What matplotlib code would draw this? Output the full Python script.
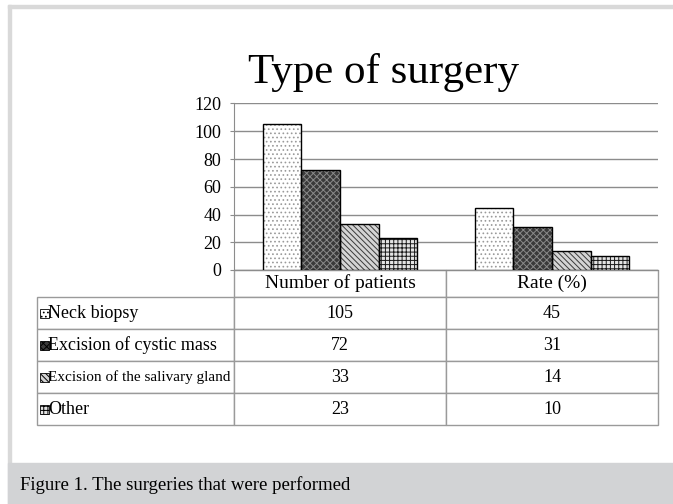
import numpy as np
import matplotlib.pyplot as plt
from matplotlib.patches import Rectangle

# data
categories = ['Number of patients', 'Rate (%)']
surgeries = ['Neck biopsy', 'Excision of cystic mass',
             'Excision of the salivary gland', 'Other']
patients = [105, 72, 33, 23]
rates = [45, 31, 14, 10]
yticks = [0, 20, 40, 60, 80, 100, 120]

# bar looks: (face, hatch, hatch colour)
styles = [('white', '....', '#9a9a9a'),
          ('#3a3a3a', 'xxxxx', '#8a8a8a'),
          ('#d4d4d4', '\\\\\\\\\\\\', '#3a3a3a'),
          ('#e4e4e4', '++++', '#1a1a1a')]

plt.rcParams['font.family'] = ['Liberation Serif', 'DejaVu Serif']
plt.rcParams['hatch.linewidth'] = 0.7

W, H = 673, 504
fig = plt.figure(figsize=(W / 100, H / 100), dpi=100)

# page decorations: light frame and grey caption band
fig.patches.append(Rectangle((8 / W, 0), 3 / W, 1 - 5 / H, transform=fig.transFigure,
                             color='#d9d9d9', zorder=0))
fig.patches.append(Rectangle((8 / W, 1 - 8 / H), 1, 3 / H, transform=fig.transFigure,
                             color='#d9d9d9', zorder=0))
fig.patches.append(Rectangle((8 / W, 0), 1, 41 / H, transform=fig.transFigure,
                             color='#d2d3d5', zorder=0))
fig.text(20 / W, 1 - 485 / H, 'Figure 1. The surgeries that were performed',
         fontsize=13.5, va='center', ha='left')
fig.text(383 / W, 1 - 73 / H, 'Type of surgery', fontsize=31, ha='center', va='center')

ax_l, ax_r, ax_t, ax_b = 234, 658, 103.5, 270
ax = fig.add_axes([ax_l / W, 1 - ax_b / H, (ax_r - ax_l) / W, (ax_b - ax_t) / H])

x = np.arange(len(categories))
values = np.array([patients, rates]).T
bw = 0.182
for i, (face, hatch, hcol) in enumerate(styles):
    pos = x + (i - 1.5) * bw
    ax.bar(pos, values[i], bw, color=face, hatch=hatch, edgecolor=hcol,
           linewidth=0, zorder=3)
    ax.bar(pos, values[i], bw, fill=False, edgecolor='black', linewidth=1, zorder=4)

ax.set_xlim(-0.5, 1.5)
ax.set_ylim(0, 120)
ax.set_yticks(yticks)
ax.tick_params(axis='y', labelsize=13, length=3, color='#8c8c8c', pad=6)
ax.set_xticks([])
ax.grid(axis='y', color='#8c8c8c', linewidth=1, zorder=0)
for s in ['top', 'right']:
    ax.spines[s].set_visible(False)
ax.spines['left'].set_color('#8c8c8c')
ax.spines['bottom'].set_color('#8c8c8c')

# data table under the axis
tab_l, tab_b = 37, 425
cell_text = [[s, str(p), str(r)] for s, p, r in zip(surgeries, patients, rates)]
col_w = np.array([ax_l - tab_l, 212, ax_r - ax_l - 212], dtype=float)
tbl = ax.table(cellText=cell_text, colLabels=[''] + categories,
               colWidths=list(col_w / col_w.sum()), cellLoc='center',
               bbox=[(tab_l - ax_l) / (ax_r - ax_l), -(tab_b - ax_b) / (ax_b - ax_t),
                     (ax_r - tab_l) / (ax_r - ax_l), (tab_b - ax_b) / (ax_b - ax_t)])
tbl.auto_set_font_size(False)
tbl.set_fontsize(13)
head_h, row_h = 27, 32
for (r, c), cell in tbl.get_celld().items():
    cell.set_edgecolor('#9a9a9a')
    cell.set_linewidth(1)
    cell.set_height(head_h if r == 0 else row_h)
    if r == 0:
        cell.set_fontsize(14)
    if c == 0 and r > 0:
        cell.set_text_props(ha='left')
        cell._loc = 'left'
        cell.PAD = 11 / col_w[0]
tbl[0, 0].visible_edges = ''
tbl[3, 0].set_fontsize(11)

# little legend keys in the row labels
for i, (face, hatch, hcol) in enumerate(styles):
    yc = ax_b + head_h + (i + 0.5) * row_h
    x0 = (40 - ax_l) / (ax_r - ax_l)
    y0 = -(yc - ax_b + 4.5) / (ax_b - ax_t)
    ax.add_patch(Rectangle((x0, y0), 9 / (ax_r - ax_l), 9 / (ax_b - ax_t),
                           transform=ax.transAxes, clip_on=False, facecolor=face,
                           hatch=hatch, edgecolor='black', linewidth=0.6, zorder=5))

fig.savefig('out.png', dpi=100)
